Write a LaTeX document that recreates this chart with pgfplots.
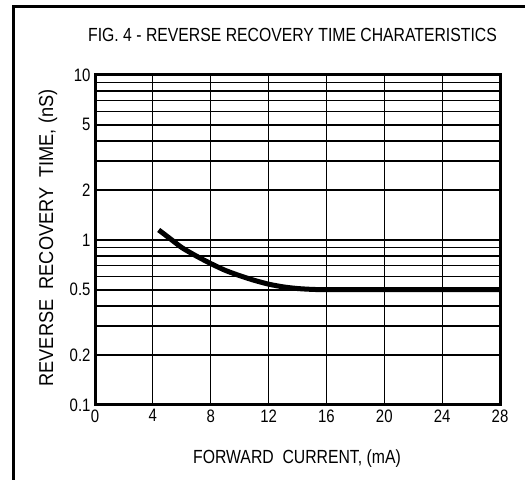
\documentclass[border=0pt]{standalone}
\usepackage{fontspec}
\setmainfont{Liberation Sans}[FakeStretch=0.83]
\newfontfamily\ylabfont{Liberation Sans}[FakeStretch=0.91]
\usepackage{pgfplots}
\pgfplotsset{compat=1.18}
\begin{document}
\begin{tikzpicture}[x=1bp,y=1bp]
\useasboundingbox (0,0) rectangle (525,480);
\draw[line width=3bp] (13,-5) -- (13,473) -- (530,473);
\begin{axis}[
  at={(95bp,75bp)}, anchor=south west,
  width=405bp, height=330bp, scale only axis,
  xmin=0, xmax=28, ymode=log, ymin=0.1, ymax=10,
  xtick={0,4,...,28},
  ytick={0.1,0.2,0.5,1,2,5,10},
  yticklabels={0.1,0.2,0.5,1,2,5,10},
  minor ytick={0.3,0.4,0.6,0.7,0.8,0.9,3,4,6,7,8,9},
  grid=both,
  major x grid style={black, line width=1.1bp},
  major y grid style={black, line width=1.7bp},
  minor y grid style={black, line width=1.7bp},
  axis line style={line width=3bp},
  tick style={draw=none},
  /pgf/number format/assume math mode=true,
  ticklabel style={font=\fontsize{18bp}{20bp}\selectfont},
  xticklabel style={yshift=-1bp},
  yticklabel style={xshift=-1bp},
  clip=false,
]
\addplot[black, line width=5bp, line cap=butt, line join=round, smooth, tension=0.4] coordinates {
  (4.4,1.15) (5,1.05) (6,0.90) (7,0.80) (8,0.72) (9,0.655) (10,0.608)
  (11,0.57) (12,0.54) (13,0.52) (14,0.508) (15,0.502) (16,0.5) (20,0.5) (24,0.5) (28,0.5)
};
\end{axis}
\node[font=\fontsize{19bp}{21bp}\selectfont] at (292.5,445) {FIG. 4 - REVERSE RECOVERY TIME CHARATERISTICS};
\node[font=\fontsize{19bp}{21bp}\selectfont] at (297,21) {FORWARD\ \ CURRENT, (mA)};
\node[font=\ylabfont\fontsize{20bp}{22bp}\selectfont, rotate=90] at (48,242) {REVERSE\ \ RECOVERY\ \ TIME, (nS)};
\end{tikzpicture}
\end{document}
